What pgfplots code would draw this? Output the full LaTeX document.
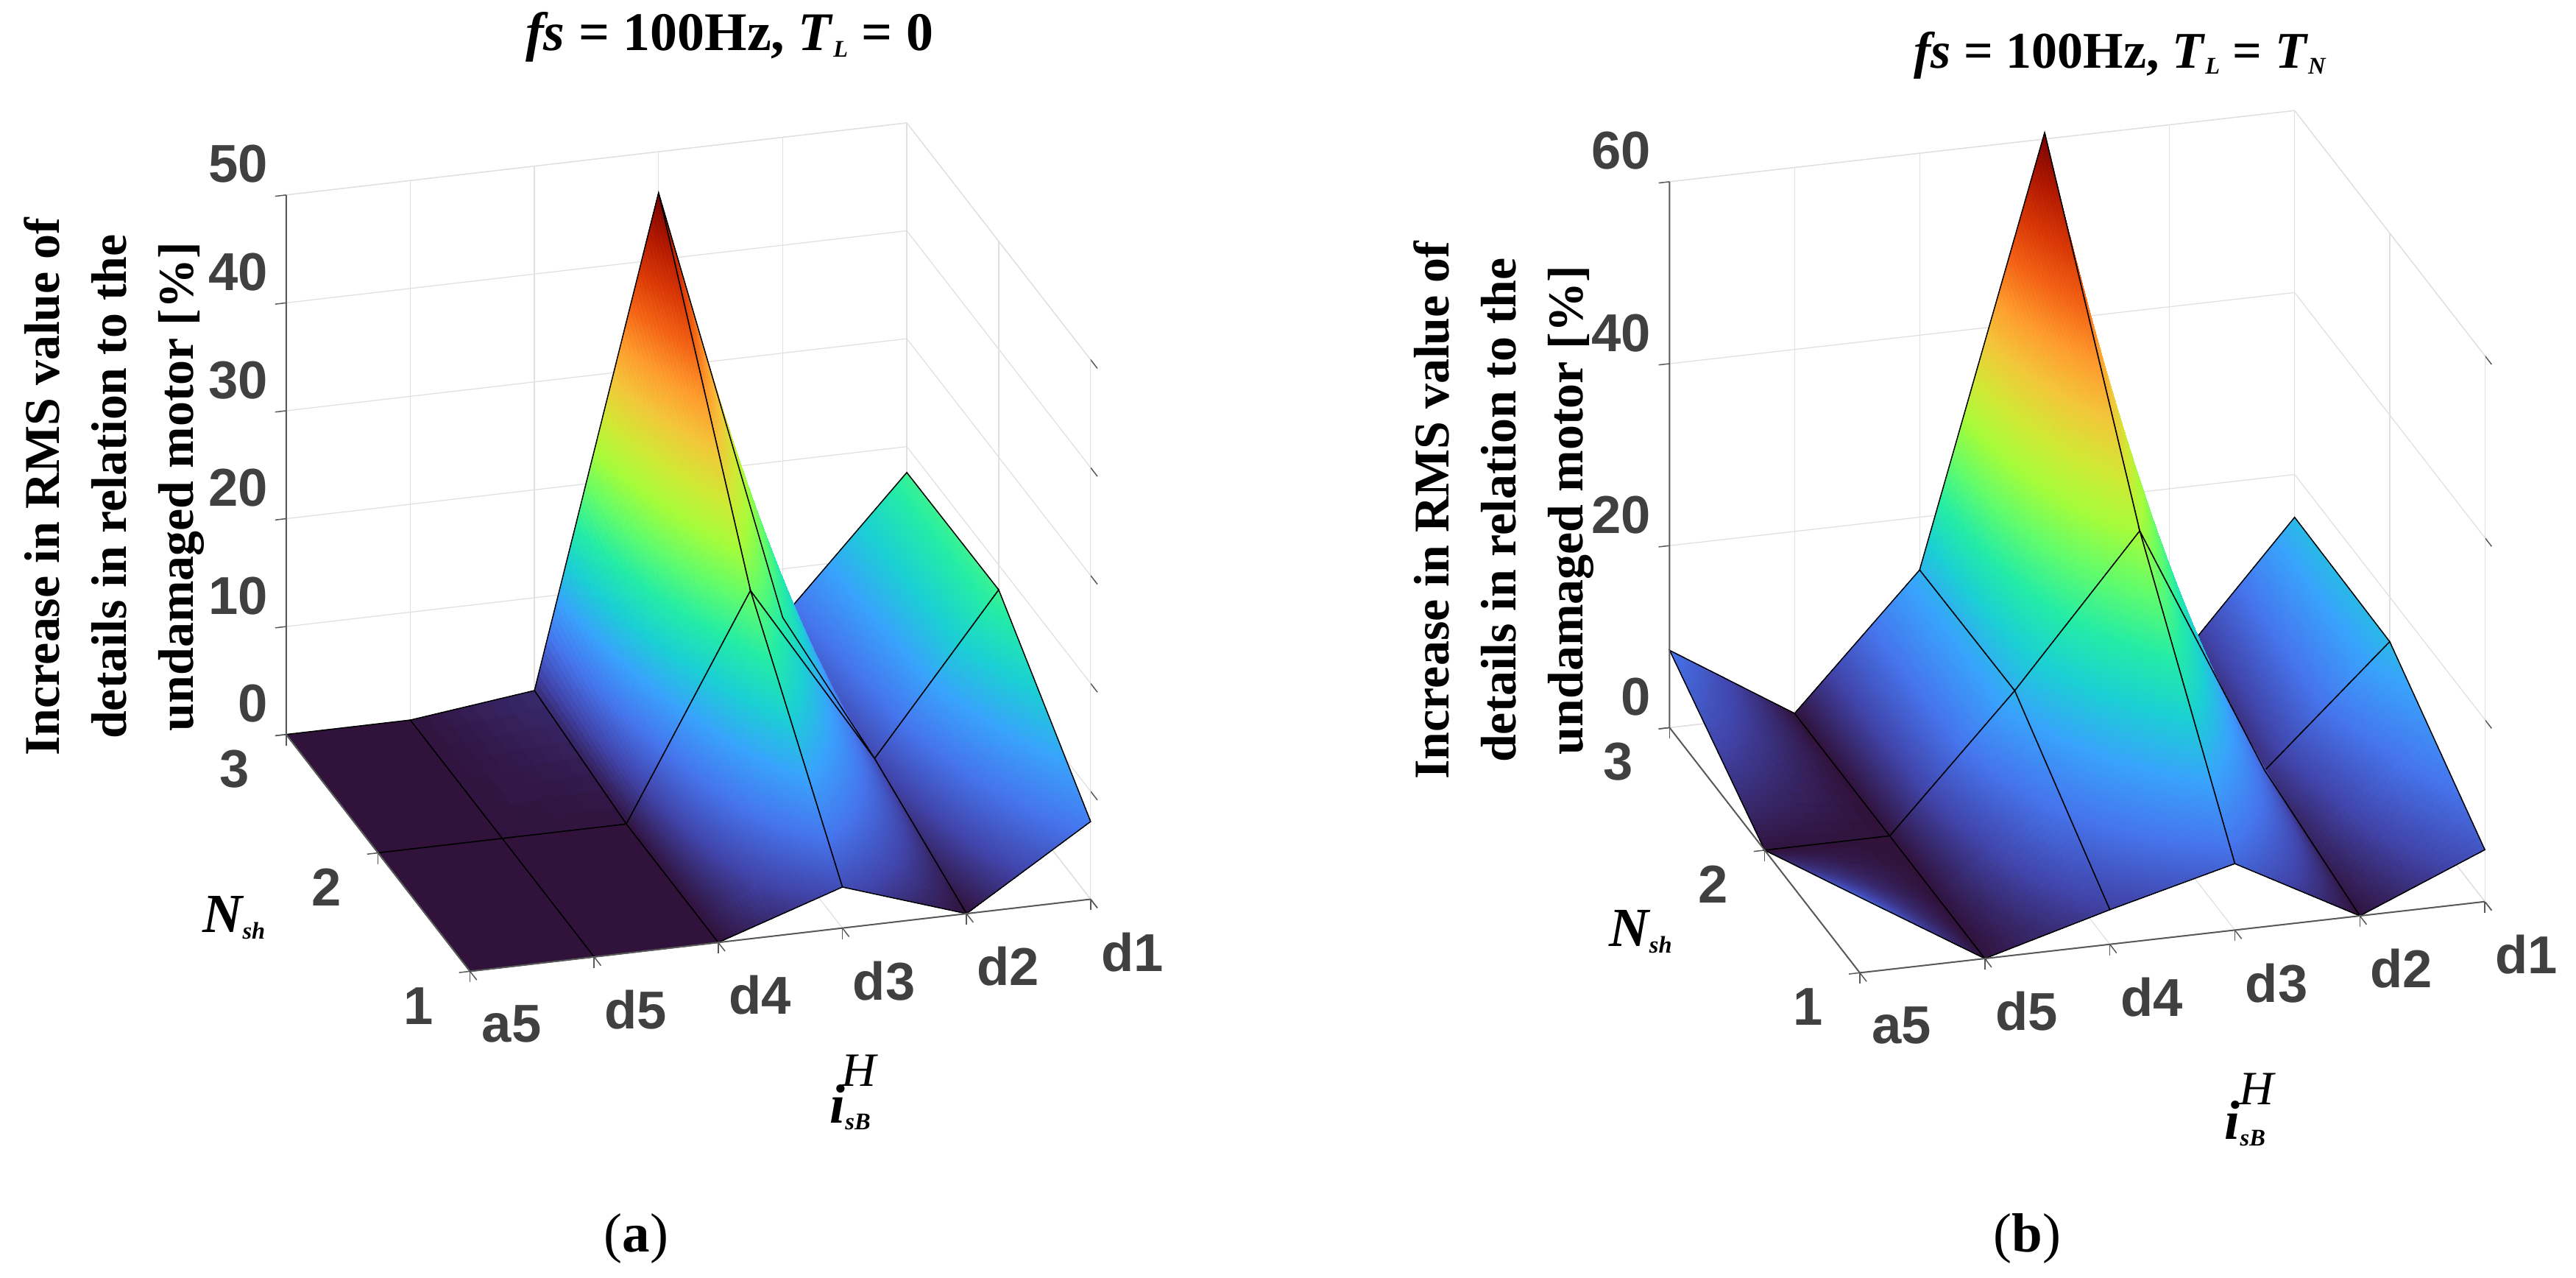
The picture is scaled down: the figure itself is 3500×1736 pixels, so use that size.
\documentclass[border=0pt]{standalone}
\usepackage{pgfplots}
\usepackage{pgfplotstable}
\usepackage{fontspec}
\usepgfplotslibrary{patchplots}
\setmainfont{Liberation Serif}
\newfontfamily\tickfont{Liberation Sans}[Scale=1]
\pgfplotsset{compat=1.18}
\pgfplotstableread{
x N z
0 1 0
1 1 0
2 1 0
3 1 3.8
4 1 0
5 1 7.2
0 2 0
1 2 0
2 2 0
3 2 20.3
4 2 3.4
5 2 17.7
0 3 0
1 3 0
2 3 1.4
3 3 46.2
4 3 5.5
5 3 17.6
}\tableA
\pgfplotstableread{
x N z
0 1 8.3
1 1 0
2 1 3.8
3 1 7.3
4 1 0
5 1 5.7
0 2 0
1 2 0
2 2 14.4
3 2 30.4
4 2 2.5
5 2 15.1
0 3 8.5
1 3 0
2 3 14.2
3 3 60.7
4 3 0
5 3 15.3
}\tableB
\pgfplotsset{
  colormap={turbo}{
    rgb255=(48,18,59) rgb255=(65,69,171) rgb255=(70,117,237) rgb255=(57,162,252)
    rgb255=(27,207,212) rgb255=(36,236,166) rgb255=(97,252,108) rgb255=(164,252,59)
    rgb255=(209,232,52) rgb255=(243,198,58) rgb255=(254,155,45) rgb255=(243,99,21)
    rgb255=(217,56,6) rgb255=(177,25,1) rgb255=(122,4,2)},
  panel/.style={
    anchor=origin, clip=false,
    xmin=0,xmax=5,ymin=1,ymax=3,zmin=0,
    xtick={0,1,2,3,4,5},
    xticklabels={a5,d5,d4,d3,d2,d1},
    ytick={1,2,3},
    grid=major,
    major grid style={draw=black!12,line width=0.25pt},
    axis line style={draw=black!12,line width=0.25pt},
    tick style={draw=black!65,line width=0.3pt},
    tick align=outside,
    tick pos=left,
    major tick length=3pt,
    ticklabel style={font=\tickfont\bfseries\fontsize{14.5}{16}\selectfont,text=black!75,inner sep=0pt},
    /pgf/number format/assume math mode=true,
    xticklabel style={anchor=center,xshift=9.5pt,yshift=-12pt},
    yticklabel style={anchor=center,xshift=-11pt,yshift=-9pt},
    zticklabel style={anchor=east,xshift=-3pt,yshift=6pt},
  },
  mysurf/.style={surf,shader=faceted interp,patch type=bilinear,faceted color=black,line width=0.3pt,mesh/cols=6},
}
\newcommand{\ylab}[1]{\bfseries\fontsize{13.6}{18.2}\selectfont\begin{tabular}{c}Increase in RMS value of\\details in relation to the\\undamaged motor [\%]\end{tabular}}
\newcommand{\subs}[1]{\raisebox{-0.25ex}{\fontsize{6.5}{8}\selectfont #1}}
\begin{document}
\begin{tikzpicture}[x=0.2pt,y=0.2pt]
\path (0,0) rectangle (3500,1736);
\begin{axis}[panel,at={(127.2pt,83.2pt)},
  x={(33.76pt,3.92pt)},y={(-25pt,32.2pt)},z={(0pt,2.934pt)},
  zmax=50,ztick={0,10,20,30,40,50}]
\addplot3[mysurf] table[x=x,y=N,z=z]{\tableA};
\draw[black!65,line width=0.4pt] (axis cs:0,1,0)--(axis cs:5,1,0);
\draw[black!65,line width=0.4pt] (axis cs:0,1,0)--(axis cs:0,3,0)--(axis cs:0,3,50);
\end{axis}
\begin{axis}[panel,at={(505.2pt,82.8pt)},
  x={(34pt,3.87pt)},y={(-25.87pt,33.33pt)},z={(0pt,2.474pt)},
  zmax=60,ztick={0,20,40,60}]
\addplot3[mysurf] table[x=x,y=N,z=z]{\tableB};
\draw[black!65,line width=0.4pt] (axis cs:0,1,0)--(axis cs:5,1,0);
\draw[black!65,line width=0.4pt] (axis cs:0,1,0)--(axis cs:0,3,0)--(axis cs:0,3,60);
\end{axis}
% y labels
\node[rotate=90,align=center] at (150,1736-661) {\ylab{}};
\node[rotate=90,align=center] at (2040,1736-693) {\ylab{}};
% titles
\node at (989,1736-50) {\bfseries\fontsize{14.8}{16}\selectfont\textit{fs} = 100Hz,\ \textit{T}\subs{\textit{L}} = 0};
\node at (2880,1736-75) {\bfseries\fontsize{14}{16}\selectfont\textit{fs} = 100Hz,\ \textit{T}\subs{\textit{L}} = \textit{T}\subs{\textit{N}}};
% axis names
\node at (315,1736-1247) {\bfseries\itshape\fontsize{15}{16}\selectfont N\subs{sh}};
\node at (2228,1736-1266) {\bfseries\itshape\fontsize{15}{16}\selectfont N\subs{sh}};
\node at (1165,1736-1455) {\itshape\fontsize{13}{14}\selectfont H};
\node at (1153,1736-1505) {\bfseries\itshape\fontsize{15}{16}\selectfont i\subs{sB}};
\node at (3066,1736-1480) {\itshape\fontsize{13}{14}\selectfont H};
\node at (3050,1736-1527) {\bfseries\itshape\fontsize{15}{16}\selectfont i\subs{sB}};
% captions
\node at (862,1736-1683) {\fontsize{15}{17}\selectfont(\textbf{a})};
\node at (2754,1736-1683) {\fontsize{15}{17}\selectfont(\textbf{b})};
\end{tikzpicture}
\end{document}
